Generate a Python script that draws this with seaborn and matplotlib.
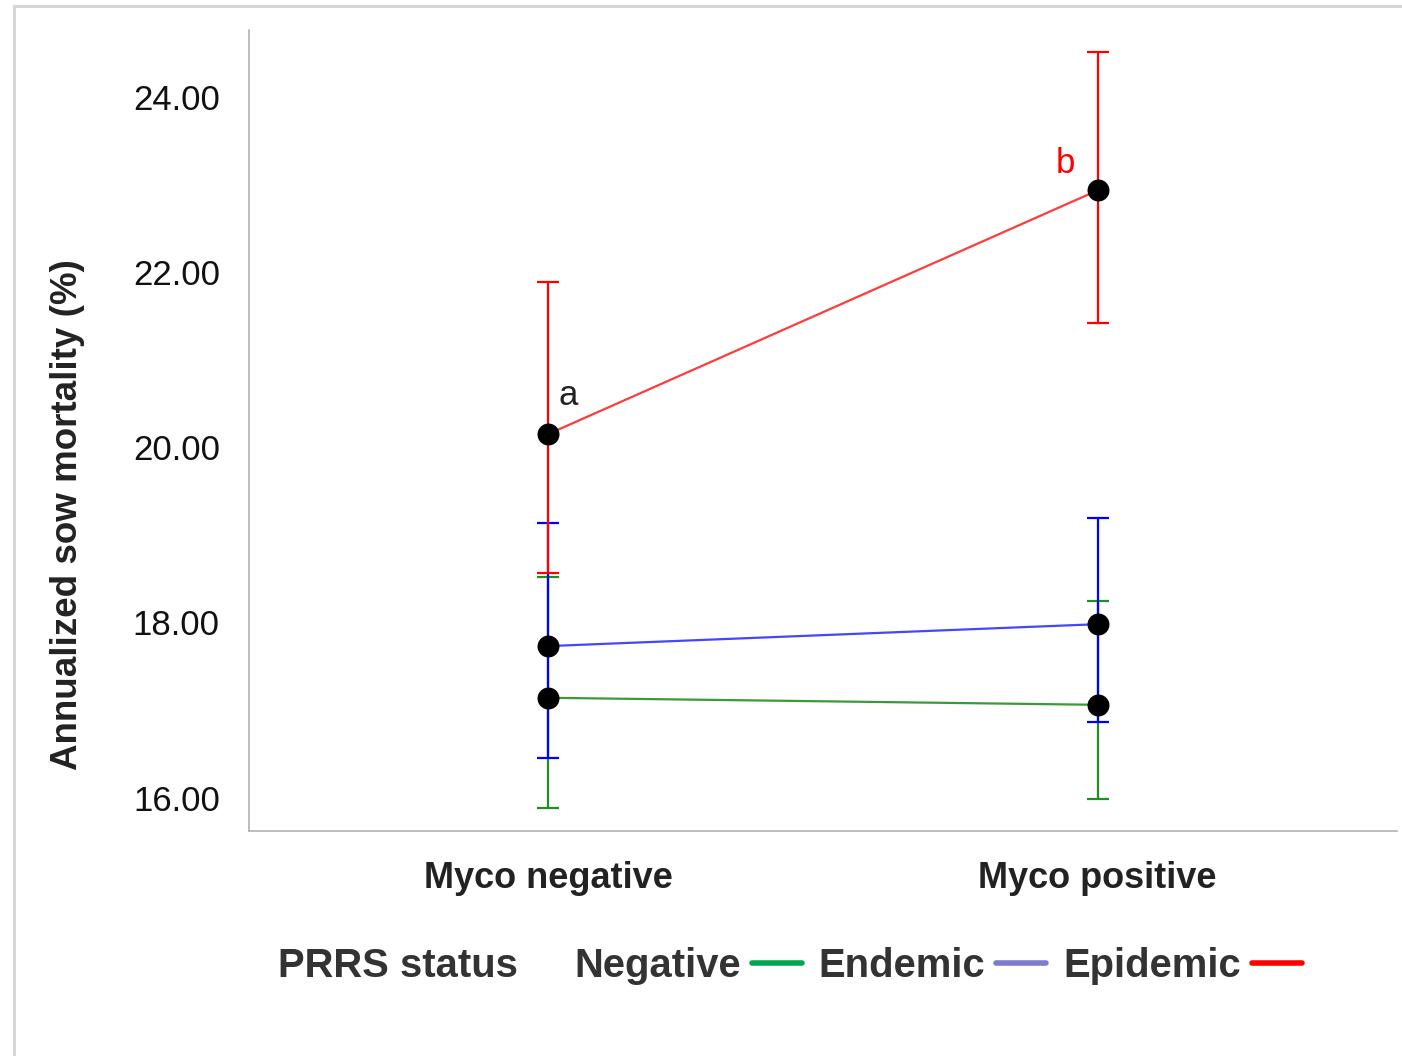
import pandas as pd
import matplotlib.pyplot as plt
import matplotlib.patches as mpatches
from matplotlib.lines import Line2D
import seaborn as sns

# chart values
myco = ['Myco negative', 'Myco positive']
status_order = ['Negative', 'Endemic', 'Epidemic']

negative_mean = [17.14, 17.06]
negative_low = [15.88, 15.98]
negative_high = [18.52, 18.24]

endemic_mean = [17.73, 17.98]
endemic_low = [16.45, 16.86]
endemic_high = [19.14, 19.19]

epidemic_mean = [20.15, 22.93]
epidemic_low = [18.56, 21.42]
epidemic_high = [21.89, 24.51]

yticks = [16, 18, 20, 22, 24]

line_colors = {'Negative': '#3a9a3a', 'Endemic': '#4646ff', 'Epidemic': '#ff3c3c'}
bar_colors = {'Negative': '#1f8f1f', 'Endemic': '#0000ff', 'Epidemic': '#ff0000'}
legend_colors = {'Negative': '#00a650', 'Endemic': '#7b7bd0', 'Epidemic': '#ff0000'}

means = {'Negative': negative_mean, 'Endemic': endemic_mean, 'Epidemic': epidemic_mean}
lows = {'Negative': negative_low, 'Endemic': endemic_low, 'Epidemic': epidemic_low}
highs = {'Negative': negative_high, 'Endemic': endemic_high, 'Epidemic': epidemic_high}

rows = []
for s in status_order:
    for i, m in enumerate(myco):
        rows.append({'myco': m, 'status': s, 'mean': means[s][i],
                     'low': lows[s][i], 'high': highs[s][i]})
df = pd.DataFrame(rows)

sns.set_style('white')
plt.rcParams['font.family'] = ['Liberation Sans', 'DejaVu Sans']

fig = plt.figure(figsize=(14.02, 10.56), dpi=100)
ax = fig.add_axes([249 / 1402, 1 - 831 / 1056, (1397 - 249) / 1402, (831 - 30) / 1056])

# error bars, drawn green -> blue -> red so red sits on top
for s in status_order:
    sub = df[df['status'] == s]
    ax.errorbar(sub['myco'], sub['mean'],
                yerr=[sub['mean'] - sub['low'], sub['high'] - sub['mean']],
                fmt='none', ecolor=bar_colors[s], elinewidth=1.6,
                capsize=8, capthick=1.6, zorder=2)

sns.lineplot(data=df, x='myco', y='mean', hue='status', hue_order=status_order,
             palette=line_colors, linewidth=1.6, legend=False, ax=ax, zorder=3)
sns.scatterplot(data=df, x='myco', y='mean', color='black', s=250,
                edgecolor='black', linewidth=0, ax=ax, zorder=4)

ax.set_xlim(-0.545, 1.545)
ax.set_ylim(15.62, 24.76)
ax.set_yticks(yticks)
ax.set_yticklabels([f'{v:.2f}' for v in yticks], fontsize=25, color='#111111')
ax.set_xticks([0, 1])
ax.set_xticklabels(myco, fontsize=26, fontweight='bold', color='#222222')
ax.tick_params(axis='y', length=11, width=1.1, color='#a8adb2', pad=10)
ax.tick_params(axis='x', length=4.5, width=1.1, color='#a8adb2', pad=17)
ax.set_xlabel('')
ax.set_ylabel('Annualized sow mortality (%)', fontsize=26.5, fontweight='bold',
              color='#222222', va='center')
ax.yaxis.set_label_coords(-0.1585, 0.3945)

for side in ['top', 'right']:
    ax.spines[side].set_visible(False)
for side in ['left', 'bottom']:
    ax.spines[side].set_color('#a8adb2')
    ax.spines[side].set_linewidth(1.1)

# letters above the epidemic points
ax.annotate('a', xy=(0, epidemic_mean[0]), xytext=(14.5, 28), textcoords='offset points',
            ha='center', va='center', fontsize=25, color='#222222')
ax.annotate('b', xy=(1, epidemic_mean[1]), xytext=(-23, 19.5), textcoords='offset points',
            ha='center', va='center', fontsize=25, color='#ff0000')

# legend row
fig.text(278 / 1402, 1 - 966 / 1056, 'PRRS status', fontsize=28.8, fontweight='bold',
         color='#333333', ha='left', va='center')
handles = [Line2D([0], [0], color=legend_colors[s], lw=4) for s in status_order]
leg = fig.legend(handles, status_order, loc='center left',
                 bbox_to_anchor=(574 / 1402, 1 - 966 / 1056), ncol=3, frameon=False,
                 markerfirst=False, handlelength=1.25, handletextpad=0.28,
                 columnspacing=0.42, borderpad=0, borderaxespad=0,
                 prop={'size': 28.8, 'weight': 'bold'})
for t in leg.get_texts():
    t.set_color('#333333')

# light frame around the figure
fig.patches.append(mpatches.Rectangle((14 / 1402, -0.1), 1.2, 1 - 6 / 1056 + 0.1,
                                      transform=fig.transFigure, fill=False,
                                      edgecolor='#d4d4d4', linewidth=2))

fig.savefig('out.png', dpi=100)
